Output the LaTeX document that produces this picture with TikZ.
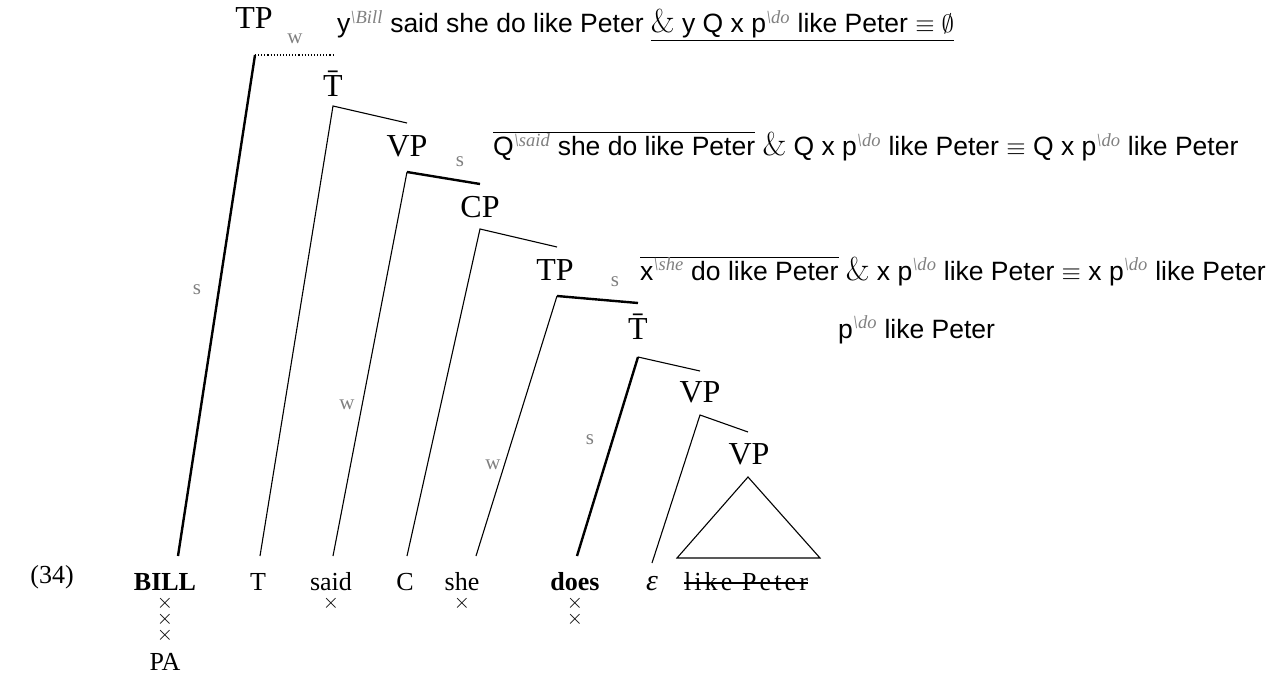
\documentclass[tikz,border=0pt]{standalone}
\usepackage{fontspec}
\setmainfont{Liberation Serif}
\setsansfont{Liberation Sans}
\newfontfamily\lmr{Latin Modern Roman}
\newcommand\gsup[1]{\textsuperscript{\textcolor{gray}{\rmfamily\itshape\textbackslash#1}}}
\newcommand\amp{{\lmr\fontsize{33}{33}\selectfont\&}}
\tikzset{
  lab/.style={font=\fontsize{32}{34}\selectfont, inner sep=0pt},
  leaf/.style={font=\fontsize{26}{28}\selectfont, inner sep=0pt, anchor=base},
  gl/.style={text=gray, font=\fontsize{21}{22}\selectfont, inner sep=0pt},
  sent/.style={font=\sffamily\fontsize{26.5}{28}\selectfont, anchor=base west, inner sep=0pt},
  cross/.style={font=\fontsize{21}{22}\selectfont, inner sep=0pt},
  thinl/.style={line width=1.1pt},
  heavy/.style={line width=2.4pt},
}
\begin{document}
\begin{tikzpicture}[x=1pt,y=-1pt]
\useasboundingbox (0,0) rectangle (1285,687);
% example number
\node[leaf] (num) at (52,583) {(34)};
% phrase labels
\node[lab] (TPa) at (254,18) {TP};
\node[lab] (Tba) at (333,84) {\=T};
\node[lab] (VPa) at (407,146) {VP};
\node[lab] (CP) at (480,207) {CP};
\node[lab] (TPb) at (555,270) {TP};
\node[lab] (Tbb) at (638,327) {\=T};
\node[lab] (VPb) at (700,392) {VP};
\node[lab] (VPc) at (749,454) {VP};
% leaves
\node[leaf] (BILL) at (165,590) {\bfseries BILL};
\node[leaf] (T) at (258,590) {T};
\node[leaf] (said) at (331,590) {said};
\node[leaf] (C) at (405,590) {C};
\node[leaf] (she) at (462,590) {she};
\node[leaf] (does) at (575,590) {\bfseries does};
\node[leaf] (eps) at (652,590) {\fontsize{30}{30}\selectfont\itshape ε};
\node[leaf] (lp) at (746,590) {\addfontfeatures{LetterSpace=12}like Peter};
\draw[thinl] ([yshift=7pt]lp.base west) -- ([yshift=7pt]lp.base east);
% crosses
\node[cross] (x1) at (165,603) {$\times$};
\node[cross] (x2) at (165,619) {$\times$};
\node[cross] (x3) at (165,635) {$\times$};
\node[leaf] (PA) at (165,670) {PA};
\node[cross] (x4) at (331,603) {$\times$};
\node[cross] (x5) at (462,603) {$\times$};
\node[cross] (x6) at (575,603) {$\times$};
\node[cross] (x7) at (575,619) {$\times$};
% corners and ends
\coordinate (c1) at (255,55);
\coordinate (r1) at (333,55);
\coordinate (c2) at (333,106);
\coordinate (r2) at (407,123);
\coordinate (c3) at (407,172);
\coordinate (r3) at (480,184);
\coordinate (c4) at (480,229);
\coordinate (r4) at (557,247);
\coordinate (c5) at (557,296);
\coordinate (r5) at (638,303);
\coordinate (c6) at (638,357);
\coordinate (r6) at (700,371);
\coordinate (c7) at (700,415);
\coordinate (r7) at (748,432);
\coordinate (b1) at (178,556);
\coordinate (b2) at (260,556);
\coordinate (b3) at (333,556);
\coordinate (b4) at (407,556);
\coordinate (b5) at (476,556);
\coordinate (b6) at (577,556);
\coordinate (b7) at (652,563);
\coordinate (ta) at (748,477);
\coordinate (tl) at (677,558);
\coordinate (tr) at (820,558);
% edges
\draw[heavy] (c1) -- (b1);
\draw[thinl, dotted] (c1) -- (r1);
\draw[thinl] (r2) -- (c2) -- (b2);
\draw[heavy] (r3) -- (c3);
\draw[thinl] (c3) -- (b3);
\draw[thinl] (r4) -- (c4) -- (b4);
\draw[heavy] (r5) -- (c5);
\draw[thinl] (c5) -- (b5);
\draw[thinl] (r6) -- (c6);
\draw[heavy] (c6) -- (b6);
\draw[thinl] (r7) -- (c7) -- (b7);
\draw[thinl] (ta) -- (tl) -- (tr) -- cycle;
% gray s / w labels
\node[gl] (g1) at (295,39) {w};
\node[gl] (g2) at (197,290) {s};
\node[gl] (g3) at (347,405) {w};
\node[gl] (g4) at (460,162) {s};
\node[gl] (g5) at (493,465) {w};
\node[gl] (g6) at (615,282) {s};
\node[gl] (g7) at (590,440) {s};
% sentences
\node[sent] (s1) at (337,33) {y\gsup{Bill} said she do like Peter \underline{\amp{} y Q x p\gsup{do} like Peter $\equiv\emptyset$}};
\node[sent] (s2) at (493,156) {$\overline{\mbox{Q\gsup{said} she do like Peter}}$ \amp{} Q x p\gsup{do} like Peter $\equiv$ Q x p\gsup{do} like Peter};
\node[sent] (s3) at (640,280) {$\overline{\mbox{x\gsup{she} do like Peter}}$ \amp{} x p\gsup{do} like Peter $\equiv$ x p\gsup{do} like Peter};
\node[sent] (s4) at (838,338) {p\gsup{do} like Peter};
\end{tikzpicture}
\end{document}
